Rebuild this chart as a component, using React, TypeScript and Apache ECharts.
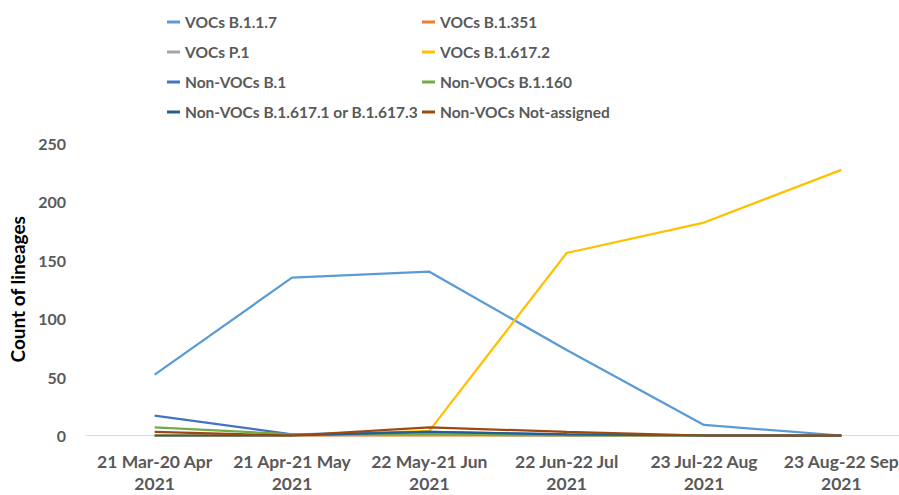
import React, { useEffect, useRef } from "react";
import * as echarts from "echarts";

const categories = [
  "21 Mar-20 Apr\n2021",
  "21 Apr-21 May\n2021",
  "22 May-21 Jun\n2021",
  "22 Jun-22 Jul\n2021",
  "23 Jul-22 Aug\n2021",
  "23 Aug-22 Sep\n2021",
];

const seriesNames = [
  "VOCs B.1.1.7",
  "VOCs B.1.351",
  "VOCs P.1",
  "VOCs B.1.617.2",
  "Non-VOCs B.1",
  "Non-VOCs B.1.160",
  "Non-VOCs B.1.617.1 or B.1.617.3",
  "Non-VOCs Not-assigned",
];

const vocB117 = [52, 135, 140, 73, 9, 0];
const vocB1351 = [0, 0, 0, 0, 0, 0];
const vocP1 = [0, 0, 1, 0, 0, 0];
const vocB16172 = [0, 0, 4, 156, 182, 227];
const nonB1 = [17, 1, 3, 1, 0, 0];
const nonB1160 = [7, 1, 1, 0, 0, 0];
const nonB16171 = [0, 0, 3, 1, 0, 0];
const nonNotAssigned = [3, 0, 7, 3, 0, 0];

const seriesValues = [vocB117, vocB1351, vocP1, vocB16172, nonB1, nonB1160, nonB16171, nonNotAssigned];
const colors = ["#5B9BD5", "#ED7D31", "#A5A5A5", "#FFC000", "#4472C4", "#70AD47", "#255E91", "#9E480E"];

const yTicks = [0, 50, 100, 150, 200, 250];

const FONT = "Lato, 'Open Sans', sans-serif";

export default function App() {
  const ref = useRef<HTMLDivElement>(null);
  useEffect(() => {
    document.body.style.margin = "0";
    if (!ref.current) return;
    const chart = echarts.init(ref.current, undefined, { renderer: "svg" });
    const legendCommon = {
      orient: "vertical" as const,
      top: 8,
      itemWidth: 13,
      itemHeight: 3,
      itemGap: 12,
      icon: "rect",
      selectedMode: false,
      textStyle: { color: "#595959", fontWeight: "bold", fontSize: 15.5, fontFamily: FONT, lineHeight: 18 },
    };
    chart.setOption({
      animation: false,
      color: colors,
      textStyle: { fontFamily: FONT },
      legend: [
        { ...legendCommon, left: 162, data: [seriesNames[0], seriesNames[2], seriesNames[4], seriesNames[6]] },
        { ...legendCommon, left: 417, data: [seriesNames[1], seriesNames[3], seriesNames[5], seriesNames[7]] },
      ],
      grid: { left: 86, width: 824, top: 143, bottom: 59.5, containLabel: false, outerBoundsMode: "none" },
      xAxis: {
        type: "category",
        data: categories,
        boundaryGap: true,
        axisLine: { lineStyle: { color: "#D9D9D9", width: 1 } },
        axisTick: { show: false },
        axisLabel: {
          color: "#595959",
          fontWeight: "bold",
          fontSize: 17.5,
          fontFamily: FONT,
          lineHeight: 22,
          margin: 15,
          interval: 0,
        },
      },
      yAxis: {
        type: "value",
        min: yTicks[0],
        max: yTicks[yTicks.length - 1],
        interval: 50,
        name: "Count of lineages",
        nameLocation: "middle",
        nameGap: 54,
        nameTextStyle: { color: "#000", fontWeight: "bold", fontSize: 19, fontFamily: FONT },
        axisLine: { show: false },
        axisTick: { show: false },
        splitLine: { show: false },
        axisLabel: { color: "#595959", fontWeight: "bold", fontSize: 16, fontFamily: FONT, margin: 20 },
      },
      series: seriesNames.map((name, i) => ({
        name,
        type: "line",
        data: seriesValues[i],
        symbol: "none",
        lineStyle: { width: 2.25, color: colors[i] },
        itemStyle: { color: colors[i] },
      })),
    });
    return () => chart.dispose();
  }, []);
  return <div ref={ref} style={{ width: 899, height: 495 }} />;
}
